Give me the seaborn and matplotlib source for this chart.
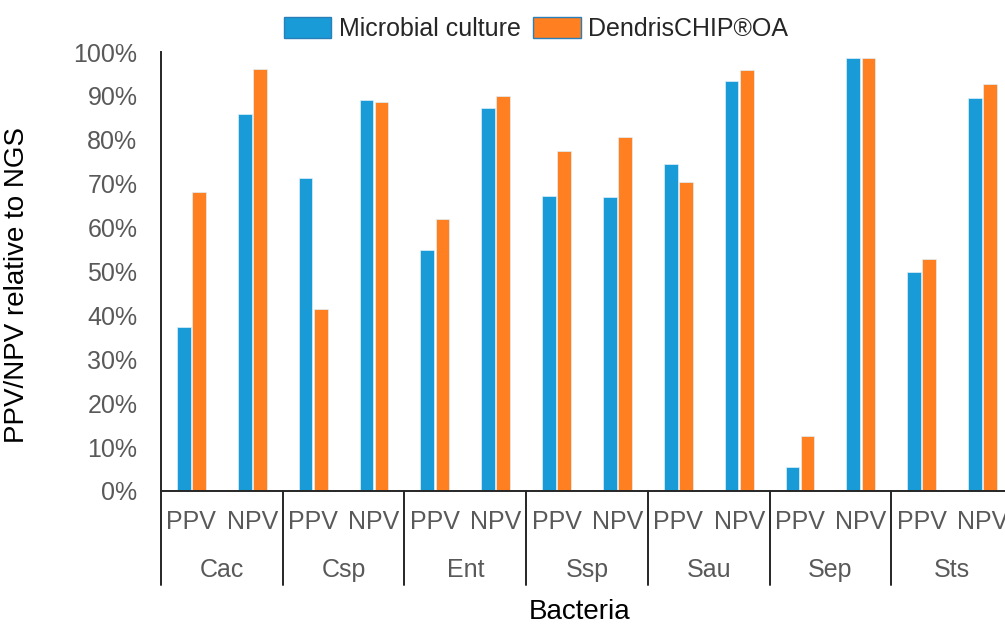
import numpy as np
import pandas as pd
import matplotlib
matplotlib.use("Agg")
import matplotlib.pyplot as plt
import matplotlib.patches as mpatches
import matplotlib.transforms as mtransforms
import seaborn as sns

# ─── DATA ─────────────────────────────────────────────
bacteria = ["Cac", "Csp", "Ent", "Ssp", "Sau", "Sep", "Sts"]
measures = ["PPV", "NPV"]
methods = ["Microbial culture", "DendrisCHIP®OA"]

# values (%) per bacteria, order PPV, NPV
culture = [37.3, 85.8, 71.2, 89.0, 54.8, 87.2, 67.3, 67.0, 74.6, 93.5, 5.5, 98.6, 49.9, 89.6]
chip    = [68.2, 96.1, 41.4, 88.5, 61.9, 89.9, 77.4, 80.6, 70.5, 95.9, 12.5, 98.6, 52.8, 92.7]

BLUE = "#189BD7"
ORANGE = "#FF7F21"
GREY = "#595959"

cats = [f"{b} {m}" for b in bacteria for m in measures]
df = pd.DataFrame({
    "cat": cats * 2,
    "method": [methods[0]] * len(cats) + [methods[1]] * len(cats),
    "value": np.array(culture + chip) / 100,
})

# ─── PLOT ─────────────────────────────────────────────
sns.set_style("white")
plt.rcParams["font.family"] = ["Liberation Sans", "DejaVu Sans"]

W, H = 1005, 628
fig = plt.figure(figsize=(W / 100, H / 100), dpi=100)
ax_left, ax_right, ax_top, ax_bot = 161, 1013, 52, 491
ax = fig.add_axes([ax_left / W, 1 - ax_bot / H, (ax_right - ax_left) / W, (ax_bot - ax_top) / H])

sns.barplot(data=df, x="cat", y="value", hue="method", order=cats, hue_order=methods,
            palette=[BLUE, ORANGE], saturation=1, width=0.5, gap=0.1,
            edgecolor="#dff1fb", linewidth=0.5, ax=ax)
ax.get_legend().remove()

ax.set_xlim(-0.5, len(cats) - 0.5)
ax.set_ylim(0, 1)
ax.set_yticks(np.arange(0, 1.01, 0.1))
ax.set_yticklabels([f"{int(round(t * 100))}%" for t in np.arange(0, 1.01, 0.1)])
ax.tick_params(axis="y", length=0, pad=17, labelsize=18, labelcolor=GREY)
ax.set_xticks([])
ax.set_xlabel("")
for s in ["top", "right"]:
    ax.spines[s].set_visible(False)
for s in ["left", "bottom"]:
    ax.spines[s].set_color("#262626")
    ax.spines[s].set_linewidth(1.4)

# multi-level x axis
trans = mtransforms.blended_transform_factory(ax.transData, ax.transAxes)
px = 1 / (ax_bot - ax_top)
for i, c in enumerate(cats):
    ax.text(i, -(522 - ax_bot) * px, c.split()[1], transform=trans, ha="center", va="center",
            fontsize=18, color=GREY)
for j, b in enumerate(bacteria):
    ax.text(2 * j + 0.5, -(570 - ax_bot) * px, b, transform=trans, ha="center", va="center",
            fontsize=18, color=GREY)
for j in range(len(bacteria) + 1):
    ax.plot([2 * j - 0.5, 2 * j - 0.5], [0, -(585 - ax_bot) * px], transform=trans,
            color="#262626", lw=1.4, clip_on=False)

ax.set_ylabel("PPV/NPV relative to NGS", fontsize=20, color="black")
ax.yaxis.set_label_coords(-(161 - 30) / (ax_right - ax_left), 0.47)
fig.text(580 / W, 1 - 612 / H, "Bacteria", ha="center", va="center", fontsize=20, color="black")

handles = [mpatches.Patch(facecolor=BLUE, edgecolor="#2b7fb8", lw=1),
           mpatches.Patch(facecolor=ORANGE, edgecolor="#2b7fb8", lw=1)]
fig.legend(handles, methods, loc="center", bbox_to_anchor=(536 / W, 1 - 29 / H), ncol=2,
           frameon=False, fontsize=18, handlelength=1.9, handleheight=0.9,
           handletextpad=0.3, columnspacing=0.5)

fig.savefig("out.png", dpi=100)
